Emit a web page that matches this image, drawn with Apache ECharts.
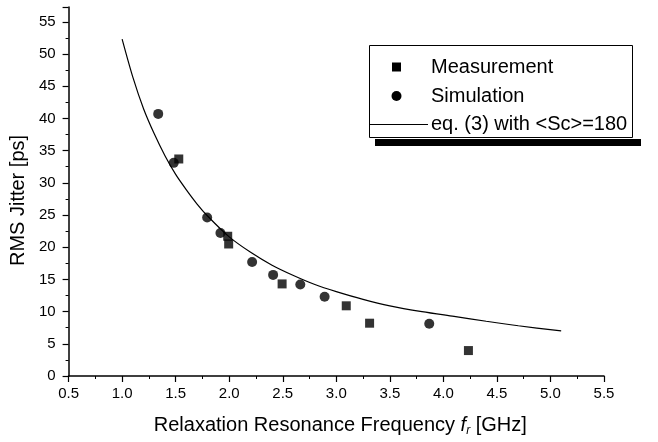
<!DOCTYPE html>
<html>
<head>
<meta charset="utf-8">
<script src="https://cdn.jsdelivr.net/npm/echarts@6/dist/echarts.min.js"></script>
<style>
  html, body { margin: 0; padding: 0; background: #fff; }
  #chart { width: 658px; height: 442px; }
</style>
</head>
<body>
<div id="chart"></div>
<script>
// Measured RMS jitter vs. relaxation resonance frequency
const measFreq   = [1.529, 1.986, 1.995, 2.494, 3.093, 3.311, 4.234];
const measJitter = [33.7, 21.7, 20.5, 14.3, 10.9, 8.2, 3.95];

// Simulated RMS jitter
const simFreq   = [1.337, 1.482, 1.794, 1.918, 2.214, 2.41, 2.664, 2.891, 3.868];
const simJitter = [40.7, 33.1, 24.6, 22.2, 17.7, 15.7, 14.2, 12.3, 8.1];

// eq. (3) with <Sc>=180
const eqFreq   = [1.0, 1.1, 1.2, 1.3, 1.4, 1.5, 1.6, 1.7, 1.8, 2.0, 2.2, 2.4, 2.6, 2.8, 3.0, 3.25, 3.5, 3.8, 4.1, 4.4, 4.7, 5.1];
const eqJitter = [52.3, 46.4, 41.5, 37.6, 34.2, 31.3, 28.9, 26.7, 24.8, 21.6, 19.2, 17.2, 15.6, 14.2, 13.1, 11.9, 10.9, 10.0, 9.25, 8.5, 7.8, 7.0];

const legendLabels = ['Measurement', 'Simulation', 'eq. (3) with <Sc>=180'];

const pairs = (xs, ys) => xs.map((x, i) => [x, ys[i]]);

const FONT = 'Liberation Sans, Arial, sans-serif';
const chart = echarts.init(document.getElementById('chart'), null, { renderer: 'canvas' });

const axisCommon = {
  axisLine: { show: true, onZero: false, lineStyle: { color: '#000', width: 1.5 } },
  axisTick: { show: true, inside: false, length: 6, lineStyle: { color: '#000', width: 1.2 } },
  minorTick: { show: true, splitNumber: 2, length: 3, lineStyle: { color: '#000', width: 1 } },
  splitLine: { show: false }
};

chart.setOption({
  backgroundColor: '#fff',
  animation: false,
  grid: { left: 68, right: 54, top: 7, bottom: 65.5, containLabel: false },
  xAxis: Object.assign({}, axisCommon, {
    type: 'value',
    min: 0.5, max: 5.5, interval: 0.5,
    axisLabel: {
      color: '#000', fontFamily: FONT, fontSize: 15, margin: 10,
      formatter: v => v.toFixed(1)
    },
    name: '{n|Relaxation Resonance Frequency }{i|f}{s|r}{n| [GHz]}',
    nameLocation: 'middle',
    nameGap: 37,
    nameTextStyle: {
      padding: [0, 0, 0, 8],
      rich: {
        n: { fontFamily: FONT, fontSize: 20, color: '#000' },
        i: { fontFamily: FONT, fontSize: 20, fontStyle: 'italic', color: '#000' },
        s: { fontFamily: FONT, fontSize: 12, fontStyle: 'italic', color: '#000', verticalAlign: 'bottom', padding: [12, 0, 0, 0] }
      }
    }
  }),
  yAxis: Object.assign({}, axisCommon, {
    type: 'value',
    min: 0, max: 57.3, interval: 5,
    axisLabel: {
      color: '#000', fontFamily: FONT, fontSize: 15, margin: 13,
      showMaxLabel: false
    },
    name: 'RMS Jitter [ps]',
    nameLocation: 'middle',
    nameGap: 35,
    nameTextStyle: { color: '#000', fontFamily: FONT, fontSize: 20, padding: [0, 18, 0, 0] }
  }),
  series: [
    {
      name: legendLabels[2],
      type: 'line',
      data: pairs(eqFreq, eqJitter),
      smooth: 0.3,
      showSymbol: false,
      symbol: 'none',
      lineStyle: { color: '#000', width: 1.2 },
      z: 1
    },
    {
      name: legendLabels[0],
      type: 'scatter',
      symbol: 'rect',
      symbolSize: 9,
      data: pairs(measFreq, measJitter),
      itemStyle: { color: '#000' },
      z: 3
    },
    {
      name: legendLabels[1],
      type: 'scatter',
      symbol: 'circle',
      symbolSize: 10,
      data: pairs(simFreq, simJitter),
      itemStyle: { color: '#000' },
      z: 3
    }
  ],
  graphic: [
    // drop shadow under the legend box
    { type: 'rect', shape: { x: 375, y: 139, width: 266, height: 7 }, style: { fill: '#000' }, z: 10 },
    // legend frame
    { type: 'rect', shape: { x: 369.5, y: 45.5, width: 263, height: 92 },
      style: { fill: '#fff', stroke: '#000', lineWidth: 1 }, z: 11 },
    // legend entries
    { type: 'rect', shape: { x: 392, y: 62.5, width: 9, height: 9 }, style: { fill: '#000' }, z: 12 },
    { type: 'text', x: 431, y: 67, style: { text: legendLabels[0], fill: '#000', font: '20px ' + FONT, verticalAlign: 'middle' }, z: 12 },
    { type: 'circle', shape: { cx: 396.5, cy: 96, r: 5 }, style: { fill: '#000' }, z: 12 },
    { type: 'text', x: 431, y: 96, style: { text: legendLabels[1], fill: '#000', font: '20px ' + FONT, verticalAlign: 'middle' }, z: 12 },
    { type: 'line', shape: { x1: 369.5, y1: 124.5, x2: 428, y2: 124.5 }, style: { stroke: '#000', lineWidth: 1 }, z: 12 },
    { type: 'text', x: 431, y: 124, style: { text: legendLabels[2], fill: '#000', font: '20px ' + FONT, verticalAlign: 'middle' }, z: 12 }
  ]
});
</script>
</body>
</html>
